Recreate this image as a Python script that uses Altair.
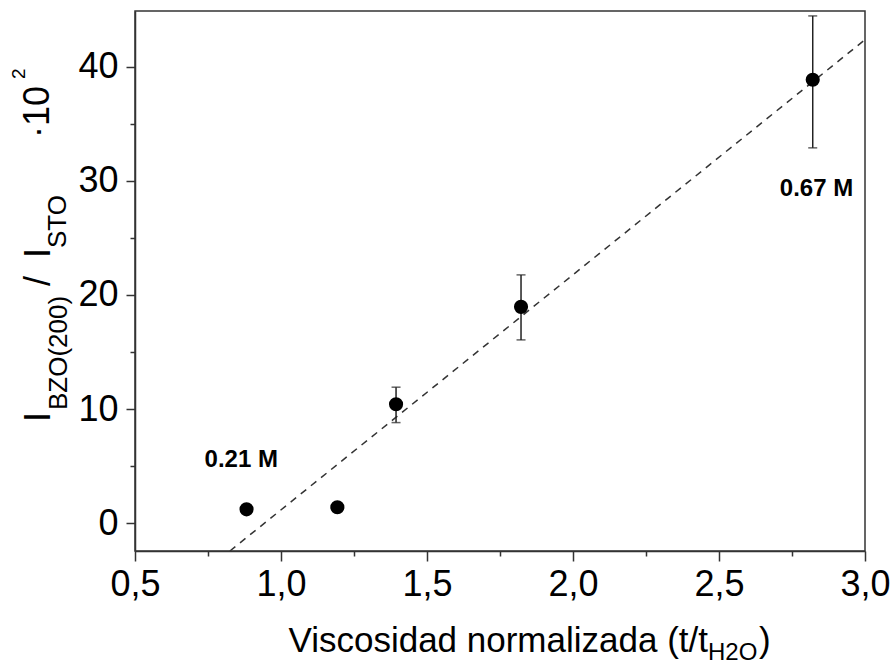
import altair as alt
import pandas as pd

FONT = "Liberation Sans"

# ---- data ----
x_vals = [0.882, 1.193, 1.394, 1.822, 2.821]
y_vals = [1.24, 1.42, 10.44, 18.96, 38.84]

err_x = [1.394, 1.822, 2.821]
err_lo = [8.83, 16.07, 32.88]
err_hi = [11.93, 21.76, 44.43]

fit_x = [0.825, 3.0]
fit_y = [-2.41, 42.35]

ann_x = [0.864, 2.834]
ann_y = [4.95, 28.68]
ann_text = ["0.21 M", "0.67 M"]

x_major = [0.5, 1.0, 1.5, 2.0, 2.5, 3.0]
x_minor = [0.75, 1.25, 1.75, 2.25, 2.75]
y_major = [0, 10, 20, 30, 40]
y_minor = [5, 15, 25, 35]
x_domain = [0.5, 3.0]
y_domain = [-2.41, 44.86]

x_title_parts = ["Viscosidad normalizada (t/t", "H2O", ")"]
y_title_parts = ["I", "BZO(200)", "/", "I", "STO", "\u00b710", "2"]

# ---- tables ----
pts = pd.DataFrame({"x": x_vals, "y": y_vals})
errs = pd.DataFrame({"x": err_x, "lo": err_lo, "hi": err_hi})
fit = pd.DataFrame({"x": fit_x, "y": fit_y})
ann = pd.DataFrame({"x": ann_x, "y": ann_y, "t": ann_text})
one = pd.DataFrame({"a": [0]})

xs = alt.Scale(domain=x_domain, nice=False, zero=False)
ys = alt.Scale(domain=y_domain, nice=False, zero=False)

AX = dict(grid=False, title=None, tickColor="#333", tickWidth=1.5,
          domainColor="#333", domainWidth=1.5, labelFont=FONT,
          labelColor="black", labelFontSize=36)

x_axis_major = alt.Axis(values=x_major, orient="bottom", tickSize=10,
                        labelPadding=6, labelFlush=False, labelOverlap=False,
                        labelExpr="replace(format(datum.value, '.1f'), '.', ',')",
                        **AX)
y_axis_major = alt.Axis(values=y_major, orient="left", tickSize=9,
                        labelPadding=8, labelOverlap=False, format="d", **AX)
x_axis_minor = alt.Axis(values=x_minor, orient="bottom", tickSize=5,
                        labels=False, domain=False, **AX)
y_axis_minor = alt.Axis(values=y_minor, orient="left", tickSize=5,
                        labels=False, domain=False, **AX)

points = alt.Chart(pts).mark_circle(size=200, color="black", opacity=1).encode(
    x=alt.X("x:Q", scale=xs, axis=x_axis_major),
    y=alt.Y("y:Q", scale=ys, axis=y_axis_major),
)

fit_line = alt.Chart(fit).mark_line(color="#333", strokeWidth=1.5,
                                    strokeDash=[7, 6]).encode(
    x=alt.X("x:Q", scale=xs, axis=x_axis_minor),
    y=alt.Y("y:Q", scale=ys, axis=y_axis_minor),
)

err_rule = alt.Chart(errs).mark_rule(color="#222", strokeWidth=1.5).encode(
    x=alt.X("x:Q", scale=xs, axis=None),
    y=alt.Y("lo:Q", scale=ys, axis=None),
    y2="hi:Q",
)
cap_lo = alt.Chart(errs).mark_tick(color="#222", orient="horizontal",
                                   size=9, thickness=1.5).encode(
    x=alt.X("x:Q", scale=xs, axis=None),
    y=alt.Y("lo:Q", scale=ys, axis=None),
)
cap_hi = alt.Chart(errs).mark_tick(color="#222", orient="horizontal",
                                   size=9, thickness=1.5).encode(
    x=alt.X("x:Q", scale=xs, axis=None),
    y=alt.Y("hi:Q", scale=ys, axis=None),
)

labels = alt.Chart(ann).mark_text(font=FONT, fontSize=24, fontWeight="bold",
                                  color="black", align="center",
                                  baseline="alphabetic").encode(
    x=alt.X("x:Q", scale=xs, axis=None),
    y=alt.Y("y:Q", scale=ys, axis=None),
    text="t:N",
)


def txt(s, px, py, size, angle=0, align="left"):
    kw = dict(text=s, fontSize=size, font=FONT, align=align,
              baseline="alphabetic", color="black")
    if angle:
        kw["angle"] = angle
    return alt.Chart(one).mark_text(**kw).encode(x=alt.value(px), y=alt.value(py))


# x title (plot-area pixel coordinates; plot origin at page (135, 11))
xt = [
    txt(x_title_parts[0], 573, 641, 35, align="right"),
    txt(x_title_parts[1], 573, 649, 24),
    txt(x_title_parts[2], 624, 641, 35),
]

# y title, rotated
yt = [
    txt(y_title_parts[0], -85, 411, 36, angle=270),
    txt(y_title_parts[1], -68, 399, 26, angle=270),
    txt(y_title_parts[2], -85, 275, 36, angle=270),
    txt(y_title_parts[3], -85, 247, 36, angle=270),
    txt(y_title_parts[4], -69, 237, 26, angle=270),
    txt(y_title_parts[5], -86, 127, 36, angle=270),
    txt(y_title_parts[6], -110, 68, 19, angle=270),
]

chart = alt.layer(
    fit_line, err_rule, cap_lo, cap_hi, points, labels, *xt, *yt
).resolve_axis(
    x="independent", y="independent"
).properties(
    width=730, height=540,
    padding={"left": 135, "top": 11, "right": 31, "bottom": 115},
    autosize=alt.AutoSizeParams(type="none"),
    background="white",
).configure_view(stroke="#333", strokeWidth=1.5)

chart.save("out.html", embed_options={"renderer": "svg", "actions": False})
